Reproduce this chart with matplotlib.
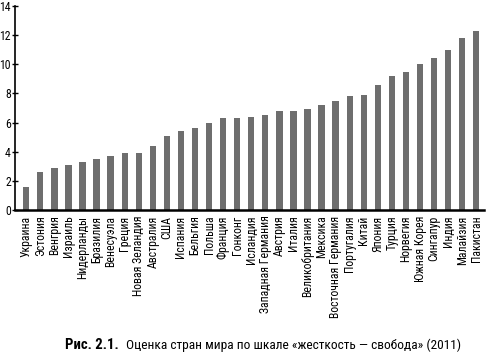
import matplotlib
matplotlib.use("Agg")
import matplotlib.pyplot as plt
import logging
logging.getLogger("matplotlib.font_manager").setLevel(logging.ERROR)

countries = ["Украина", "Эстония", "Венгрия", "Израиль", "Нидерланды", "Бразилия",
             "Венесуэла", "Греция", "Новая Зеландия", "Австралия", "США", "Испания",
             "Бельгия", "Польша", "Франция", "Гонконг", "Исландия", "Западная Германия",
             "Австрия", "Италия", "Великобритания", "Мексика", "Восточная Германия",
             "Португалия", "Китай", "Япония", "Турция", "Норвегия", "Южная Корея",
             "Сингапур", "Индия", "Малайзия", "Пакистан"]
values = [1.6, 2.6, 2.9, 3.1, 3.3, 3.5, 3.7, 3.9, 3.9, 4.4, 5.1, 5.4, 5.6, 6.0, 6.3,
          6.3, 6.4, 6.5, 6.8, 6.8, 6.9, 7.2, 7.5, 7.8, 7.9, 8.6, 9.2, 9.5, 10.0, 10.4,
          11.0, 11.8, 12.3]
yticks = [0, 2, 4, 6, 8, 10, 12, 14]

plt.rcParams['font.family'] = ['Roboto Condensed', 'PT Sans Narrow', 'DejaVu Sans']

W, H = 487, 355
fig = plt.figure(figsize=(W / 100, H / 100), dpi=100)
ax = fig.add_axes([15 / W, 1 - 210 / H, (484 - 15) / W, (210 - 6) / H])

x = list(range(len(countries)))
ax.bar(x, values, width=0.45, color="#6e6e6e")
ax.set_xlim(-0.8, len(countries) - 0.45)
ax.set_ylim(0, 14)
ax.set_yticks(yticks)
ax.set_yticklabels([str(t) for t in yticks], fontsize=8.5)
ax.set_xticks(x)
ax.set_xticklabels(countries, rotation=90, fontsize=8.5, va="top", ha="center")
ax.tick_params(axis="x", length=0, pad=4)
ax.tick_params(axis="y", length=4, direction="inout", width=1, pad=1)
for s in ["top", "right"]:
    ax.spines[s].set_visible(False)
ax.spines["bottom"].set_linewidth(1.8)
ax.spines["left"].set_linewidth(1.2)

fig.text(65 / W, 1 - 345 / H, "Рис. 2.1.", fontsize=10.6, fontweight="bold", va="center", ha="left")
fig.text(126 / W, 1 - 345 / H, "Оценка стран мира по шкале «жесткость — свобода» (2011)",
         fontsize=9.6, va="center", ha="left")

fig.savefig("out.png", dpi=100)
